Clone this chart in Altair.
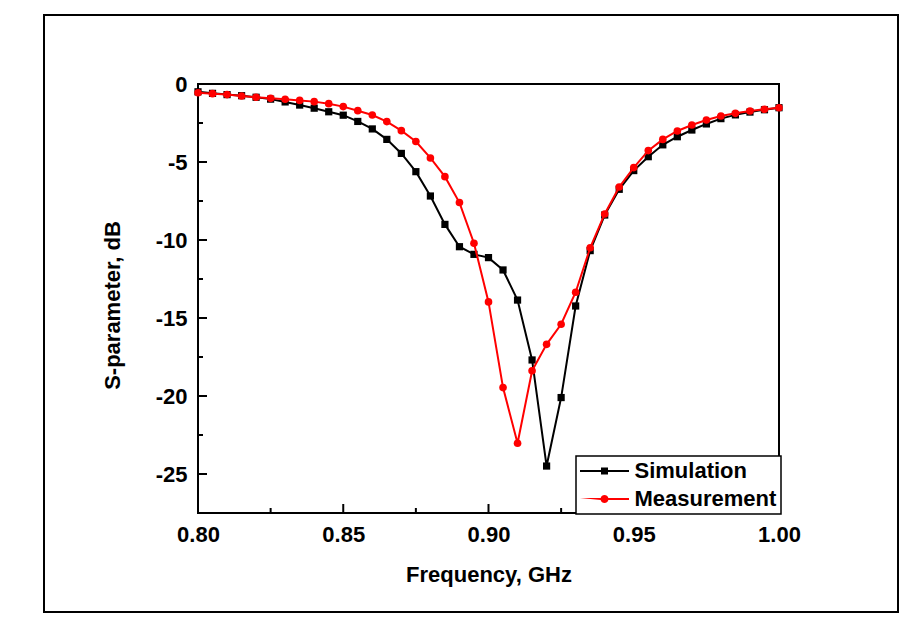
import altair as alt
import pandas as pd

# ---------------- data ----------------
FREQ = [0.800, 0.805, 0.810, 0.815, 0.820, 0.825, 0.830, 0.835, 0.840, 0.845,
        0.850, 0.855, 0.860, 0.865, 0.870, 0.875, 0.880, 0.885, 0.890, 0.895,
        0.900, 0.905, 0.910, 0.915, 0.920, 0.925, 0.930, 0.935, 0.940, 0.945,
        0.950, 0.955, 0.960, 0.965, 0.970, 0.975, 0.980, 0.985, 0.990, 0.995,
        1.000]

SIMULATION = [-0.50, -0.60, -0.68, -0.75, -0.85, -0.97, -1.15, -1.35, -1.55, -1.78,
              -2.00, -2.40, -2.88, -3.55, -4.45, -5.62, -7.18, -9.00, -10.43, -10.92,
              -11.13, -11.92, -13.85, -17.69, -24.49, -20.10, -14.23, -10.68, -8.40, -6.75,
              -5.55, -4.66, -3.90, -3.38, -2.95, -2.56, -2.22, -1.98, -1.80, -1.65,
              -1.52]

MEASUREMENT = [-0.56, -0.62, -0.68, -0.77, -0.85, -0.92, -0.98, -1.05, -1.13, -1.26,
               -1.45, -1.71, -1.99, -2.41, -2.99, -3.69, -4.74, -5.94, -7.60, -10.21,
               -13.97, -19.46, -23.03, -18.38, -16.69, -15.40, -13.35, -10.50, -8.33, -6.60,
               -5.36, -4.27, -3.55, -3.01, -2.63, -2.31, -2.05, -1.88, -1.73, -1.62,
               -1.52]

SERIES = ["Simulation", "Measurement"]
X_MAJOR = [0.80, 0.85, 0.90, 0.95, 1.00]
X_MINOR = [0.825, 0.875, 0.925, 0.975]
Y_MAJOR = [0, -5, -10, -15, -20, -25]
Y_MINOR = [-2.5, -7.5, -12.5, -17.5, -22.5]

# ---------------- styling ----------------
COLORS = ["#000000", "#ff0000"]
FONT = "Liberation Sans"
W, H = 581, 429

SIM_PATH = ("M-6.125,-0.25L-0.875,-0.25L-0.875,-0.875L0.875,-0.875L0.875,-0.25"
            "L6.125,-0.25L6.125,0.25L0.875,0.25L0.875,0.875L-0.875,0.875L-0.875,0.25"
            "L-6.125,0.25Z")
MEAS_PATH = ("M-6.125,-0.25L-0.968,-0.25A1,1,0,0,1,0.968,-0.25L6.125,-0.25L6.125,0.25"
             "L0.968,0.25A1,1,0,0,1,-0.968,0.25Z")

# ---------------- tables ----------------
df = pd.DataFrame({
    "freq": FREQ * 2,
    "value": SIMULATION + MEASUREMENT,
    "series": [SERIES[0]] * len(FREQ) + [SERIES[1]] * len(FREQ),
})
legend_df = pd.DataFrame({"series": SERIES})
xmaj_df = pd.DataFrame({"freq": X_MAJOR})
xmin_df = pd.DataFrame({"freq": X_MINOR})
ymaj_df = pd.DataFrame({"value": Y_MAJOR})
ymin_df = pd.DataFrame({"value": Y_MINOR})
one_df = pd.DataFrame({"a": [0]})

x_enc = alt.X(
    "freq:Q",
    scale=alt.Scale(domain=[0.8, 1.0], nice=False, zero=False),
    axis=alt.Axis(values=X_MAJOR, format=".2f", title="Frequency, GHz",
                  ticks=False, tickSize=0, domain=False, grid=False,
                  labelPadding=28, labelBaseline="alphabetic",
                  labelFlush=False, labelOverlap=False,
                  titleX=W / 2, titleY=68, titleAlign="center",
                  titleBaseline="alphabetic"),
)
y_enc = alt.Y(
    "value:Q",
    scale=alt.Scale(domain=[-27.5, 0], nice=False, zero=False),
    axis=alt.Axis(values=Y_MAJOR, labelExpr="toString(datum.value)",
                  title="S-parameter, dB",
                  ticks=False, tickSize=0, domain=False, grid=False,
                  labelPadding=11, labelFlush=False, labelOverlap=False,
                  titleX=-79, titleY=221, titleAlign="center",
                  titleBaseline="alphabetic"),
)

frame = alt.Chart(one_df).mark_rect(fillOpacity=0, stroke="black", strokeWidth=2).encode(
    x=alt.value(-154), x2=alt.value(700), y=alt.value(-69), y2=alt.value(528)
)

xmaj = alt.Chart(xmaj_df).mark_rule(color="black", strokeWidth=2).encode(
    x=x_enc, y=alt.value(H), y2=alt.value(H - 9))
xmin = alt.Chart(xmin_df).mark_rule(color="black", strokeWidth=2).encode(
    x=x_enc, y=alt.value(H), y2=alt.value(H - 5))
ymaj = alt.Chart(ymaj_df).mark_rule(color="black", strokeWidth=2).encode(
    y=y_enc, x=alt.value(0), x2=alt.value(9))
ymin = alt.Chart(ymin_df).mark_rule(color="black", strokeWidth=2).encode(
    y=y_enc, x=alt.value(0), x2=alt.value(5))

sim = alt.Chart(df).transform_filter(alt.datum.series == SERIES[0])
meas = alt.Chart(df).transform_filter(alt.datum.series == SERIES[1])

sim_line = sim.mark_line(color=COLORS[0], strokeWidth=2).encode(x=x_enc, y=y_enc)
sim_pts = sim.mark_square(color=COLORS[0], size=52, opacity=1).encode(x=x_enc, y=y_enc)
meas_line = meas.mark_line(color=COLORS[1], strokeWidth=2).encode(x=x_enc, y=y_enc)
meas_pts = meas.mark_circle(color=COLORS[1], size=58, opacity=1).encode(x=x_enc, y=y_enc)

leg = alt.Legend(title=None, orient="none", legendX=378, legendY=372)
legend_layer = alt.Chart(legend_df).transform_filter("false").mark_point(
    filled=True, opacity=1, size=64
).encode(
    color=alt.Color("series:N", scale=alt.Scale(domain=SERIES, range=COLORS), legend=leg),
    shape=alt.Shape("series:N", scale=alt.Scale(domain=SERIES, range=[SIM_PATH, MEAS_PATH]),
                    legend=leg),
)

chart = alt.layer(
    frame, xmaj, xmin, ymaj, ymin, sim_line, sim_pts, meas_line, meas_pts, legend_layer
).properties(
    width=W, height=H,
    autosize=alt.AutoSizeParams(type="none"),
    padding={"left": 190, "top": 76, "right": 125, "bottom": 105},
    background="white",
).configure_view(
    stroke="black", strokeWidth=2
).configure_axis(
    labelFont=FONT, labelFontSize=22, labelFontWeight="bold", labelColor="black",
    titleFont=FONT, titleFontSize=22, titleFontWeight="bold", titleColor="black",
).configure_legend(
    labelFont=FONT, labelFontSize=22, labelFontWeight="bold", labelColor="black",
    padding=4, rowPadding=6, symbolOffset=13.5, labelOffset=19,
    symbolStrokeWidth=0, symbolOpacity=1, symbolSize=64,
    strokeColor="black", strokeWidth=1.5, fillColor="white", labelLimit=300,
)

chart.save("out.html", embed_options={"renderer": "svg", "actions": False})
